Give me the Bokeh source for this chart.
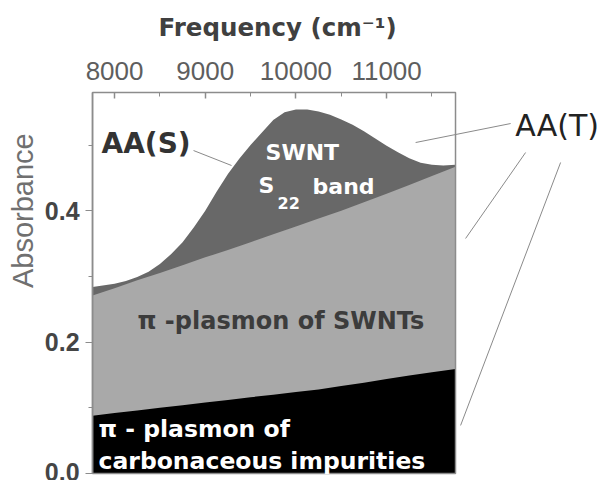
import math
from bokeh.plotting import figure
from bokeh.models import Range1d, FixedTicker, Label, Arrow, PrintfTickFormatter
from bokeh.embed import file_html
from bokeh.resources import INLINE

# ---- data ----
# total absorbance AA(S) curve (upper edge of dark-grey S22 band)
freq_total = [7757, 8000, 8125, 8250, 8375, 8500, 8625, 8750, 8875, 9000, 9125, 9250,
              9375, 9500, 9625, 9750, 9875, 10000, 10125, 10250, 10375, 10500, 10625,
              10750, 10875, 11000, 11125, 11250, 11375, 11500, 11625, 11760]
abs_total = [0.284, 0.289, 0.293, 0.299, 0.307, 0.319, 0.334, 0.352, 0.375, 0.400, 0.429, 0.456,
             0.479, 0.500, 0.519, 0.538, 0.550, 0.554, 0.554, 0.551, 0.546, 0.539, 0.531,
             0.521, 0.510, 0.499, 0.489, 0.480, 0.473, 0.470, 0.469, 0.470]

# upper edge of the SWNT pi-plasmon (light grey) and impurity pi-plasmon (black)
freq_bg = [7757, 8000, 8250, 8500, 8750, 9000, 9250, 9500, 9750, 10000, 10250, 10500,
           10750, 11000, 11250, 11500, 11760]
abs_swnt_top = [0.271, 0.282, 0.294, 0.305, 0.317, 0.329, 0.340, 0.352, 0.364, 0.376, 0.388,
                0.400, 0.413, 0.426, 0.439, 0.453, 0.467]
abs_imp_top = [0.088, 0.092, 0.096, 0.100, 0.104, 0.108, 0.112, 0.116, 0.120, 0.124, 0.128,
               0.133, 0.138, 0.144, 0.149, 0.154, 0.159]

x_major_ticks = [8000, 9000, 10000, 11000]
x_minor_ticks = [8500, 9500, 10500, 11500]
y_major_ticks = [0.0, 0.2, 0.4]
y_minor_ticks = [0.1, 0.3, 0.5]

# boxed data extent
x_lo, x_hi = 7757, 11760
y_lo, y_hi = 0.0, 0.58
# the view covers the whole canvas so the callouts and titles can be placed freely
x_view = (6742, 13381)
y_view = (-0.0107, 0.72)

DARK = "#686868"
LIGHT = "#a9a9a9"
FRAME = "#8c8c8c"

p = figure(width=602, height=480, x_range=Range1d(*x_view), y_range=Range1d(*y_view),
           x_axis_location="above", output_backend="svg", toolbar_location=None,
           min_border_left=0, min_border_right=0, min_border_top=0, min_border_bottom=0)
p.title.text = ""
p.title.visible = False
p.background_fill_color = "white"
p.border_fill_color = "white"
p.xgrid.visible = False
p.ygrid.visible = False
p.outline_line_color = None

# stacked areas (painted back to front)
p.varea(x=freq_total, y1=0, y2=abs_total, fill_color=DARK)
p.varea(x=freq_bg, y1=0, y2=abs_swnt_top, fill_color=LIGHT)
p.varea(x=freq_bg, y1=0, y2=abs_imp_top, fill_color="black")

# plot box
p.quad(left=x_lo, right=x_hi, bottom=y_lo, top=y_hi, fill_color=None,
       line_color=FRAME, line_width=1.5)

# top axis, pinned to the top of the box
xa = p.xaxis[0]
xa.fixed_location = y_hi
xa.bounds = (x_lo, x_hi)
xa.ticker = FixedTicker(ticks=x_major_ticks, minor_ticks=x_minor_ticks)
xa.major_label_text_font = "Liberation Sans"
xa.major_label_text_font_size = "26px"
xa.major_label_text_color = "#5e5e5e"
xa.major_label_standoff = 12
xa.axis_line_color = None
xa.major_tick_in = 6
xa.major_tick_out = 0
xa.minor_tick_in = 4
xa.minor_tick_out = 0
xa.major_tick_line_color = FRAME
xa.minor_tick_line_color = FRAME
xa.major_tick_line_width = 1.5

# left axis, pinned to the left of the box
ya = p.yaxis[0]
ya.fixed_location = x_lo
ya.bounds = (y_lo, y_hi)
ya.ticker = FixedTicker(ticks=y_major_ticks, minor_ticks=y_minor_ticks)
ya.formatter = PrintfTickFormatter(format="%.1f")
ya.major_label_text_font = "Liberation Sans"
ya.major_label_text_font_style = "bold"
ya.major_label_text_font_size = "25px"
ya.major_label_text_color = "#454545"
ya.major_label_standoff = 6
ya.axis_line_color = FRAME
ya.axis_line_width = 1.5
ya.major_tick_in = 0
ya.major_tick_out = 7
ya.minor_tick_in = 0
ya.minor_tick_out = 4
ya.major_tick_line_color = FRAME
ya.minor_tick_line_color = FRAME


def lab(x, y, text, size, color, style="bold", font="DejaVu Sans", **kw):
    opts = dict(text_baseline="alphabetic", text_align="left")
    opts.update(kw)
    p.add_layout(Label(x=x, y=y, text=text, text_font=font, text_font_size=size,
                       text_font_style=style, text_color=color, **opts))


# axis titles
lab(8485, 0.679, "Frequency (cm⁻¹)", "24.5px", "#404040")
lab(6991, 0.40, "Absorbance", "29px", "#707070", style="normal", font="Liberation Sans",
    angle=math.pi / 2, text_align="center", text_baseline="middle")

# annotations
lab(7856, 0.5026, "AA(S)", "28px", "#333333")
lab(9665, 0.4891, "SWNT", "22px", "white")
lab(9588, 0.4388, "S", "22px", "white")
lab(9798, 0.4113, "22", "16px", "white")
lab(10184, 0.4373, "band", "22px", "white")
lab(8253, 0.2328, "π -plasmon of SWNTs", "24px", "#3c3c3c")
lab(7823, 0.068, "π - plasmon of", "23.5px", "white")
lab(7823, 0.019, "carbonaceous impurities", "23.5px", "white")
lab(12420, 0.5296, "AA(T)", "30px", "#222222", style="normal")

# leader lines
for xs, ys, xe, ye in [(8871, 0.4916, 9290, 0.4688),
                       (12368, 0.5327, 11320, 0.5038),
                       (12533, 0.4886, 11871, 0.3577),
                       (12919, 0.4734, 11816, 0.0731)]:
    p.add_layout(Arrow(start=None, end=None, x_start=xs, y_start=ys, x_end=xe, y_end=ye,
                       line_color="#8a8a8a", line_width=1))

open("out.html", "w").write(file_html(p, INLINE))
